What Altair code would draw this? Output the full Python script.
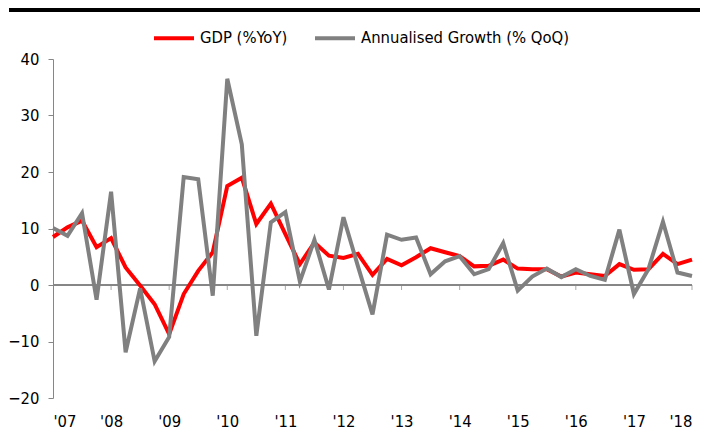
import altair as alt
import pandas as pd

start_year = 2007
gdp_yoy = [8.5, 10.2, 11.4, 6.7, 8.3, 3.1, -0.1, -3.4, -8.7, -1.6, 2.5, 5.8,
           17.5, 19.0, 10.8, 14.4, 9.0, 3.7, 7.5, 5.2, 4.8, 5.5, 1.8, 4.6,
           3.5, 4.9, 6.5, 5.8, 5.1, 3.3, 3.4, 4.5, 2.9, 2.8, 2.8, 1.5,
           2.2, 1.9, 1.6, 3.7, 2.7, 2.8, 5.5, 3.7, 4.5]
qoq_growth = [10.1, 8.7, 12.7, -2.6, 16.5, -11.9, -0.6, -13.5, -9.2, 19.1, 18.7, -1.9,
              36.5, 24.9, -9.0, 11.1, 12.9, 0.6, 8.0, -0.8, 12.0, 3.3, -5.2, 8.9,
              8.0, 8.4, 1.9, 4.2, 5.1, 1.9, 2.8, 7.4, -1.0, 1.5, 2.9, 1.4,
              2.8, 1.6, 0.9, 9.8, -1.6, 2.8, 11.2, 2.2, 1.6]
series_names = ["GDP (%YoY)", "Annualised Growth (% QoQ)"]
series_colors = ["#FF0000", "#808080"]
year_ticks = list(range(2007, 2019))
y_ticks = [-20, -10, 0, 10, 20, 30, 40]

rows = []
for i, v in enumerate(gdp_yoy):
    rows.append({"t": start_year + i / 4, "value": v, "series": series_names[0]})
for i, v in enumerate(qoq_growth):
    rows.append({"t": start_year + i / 4, "value": v, "series": series_names[1]})
df = pd.DataFrame(rows)
ticks_df = pd.DataFrame({"t": year_ticks[1:], "value": [0] * (len(year_ticks) - 1)})

FONT = "DejaVu Sans Condensed"
GREY = "#868686"

x_scale = alt.Scale(domain=[2007, 2018], nice=False, zero=False)
y_scale = alt.Scale(domain=[-20, 40], nice=False, zero=False)

x_enc = alt.X("t:Q", scale=x_scale,
              axis=alt.Axis(values=year_ticks, labelExpr="\"'\" + substring(toString(datum.value), 2, 4)",
                            domain=False, ticks=False, grid=False, labelPadding=15,
                            labelFontSize=16.5, labelColor="black", labelFont=FONT),
              title=None)
y_enc = alt.Y("value:Q", scale=y_scale,
              axis=alt.Axis(values=y_ticks, grid=False, domainColor=GREY, tickColor=GREY,
                            tickSize=5, labelPadding=9, labelFontSize=16.5,
                            labelColor="black", labelFont=FONT),
              title=None)
color_enc = alt.Color("series:N", scale=alt.Scale(domain=series_names, range=series_colors),
                      legend=alt.Legend(orient="none", legendX=99, legendY=-43, direction="horizontal",
                                        title=None, symbolType="stroke", symbolSize=1600,
                                        symbolStrokeWidth=4, labelOffset=4, columnPadding=19,
                                        labelFontSize=16.5, labelFont=FONT, labelColor="black",
                                        labelLimit=400, padding=0))

base = alt.Chart(df)
red = base.transform_filter(alt.datum.series == series_names[0]).mark_line(strokeWidth=4).encode(
    x=x_enc, y=y_enc, color=color_enc)
grey = base.transform_filter(alt.datum.series == series_names[1]).mark_line(strokeWidth=4).encode(
    x=x_enc, y=y_enc, color=color_enc)

zero = alt.Chart(ticks_df).mark_rule(color=GREY, strokeWidth=1).encode(y=y_enc)
xticks = alt.Chart(ticks_df).mark_tick(color=GREY, orient="vertical", size=5, thickness=1, yOffset=2.5).encode(
    x=x_enc, y=y_enc)
bar = alt.Chart(ticks_df).mark_rule(color="black", strokeWidth=4).encode(
    x=alt.value(-44), x2=alt.value(647), y=alt.value(-49))

chart = alt.layer(zero, xticks, red, grey, bar).properties(
    width=639, height=339,
    padding={"left": 45, "top": 51, "right": 8, "bottom": 32},
    autosize=alt.AutoSizeParams(type="none"),
).configure_view(stroke=None)

chart.save("out.html", embed_options={"renderer": "svg", "actions": False})
